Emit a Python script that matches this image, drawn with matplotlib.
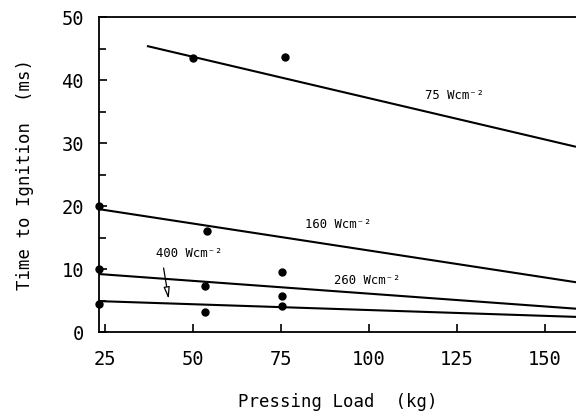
import matplotlib
matplotlib.use("Agg")
import matplotlib.pyplot as plt

plt.rcParams['font.family'] = ['DejaVu Sans Mono', 'DejaVu Sans']

# measured points
pts_x = [50, 76, 23.3, 54, 23.3, 53.4, 75.3, 75.3, 75.3, 53.4, 23.3]
pts_y = [43.5, 43.6, 20.0, 16.0, 10.0, 7.3, 9.5, 5.7, 4.1, 3.2, 4.4]

# fitted lines (x start, x end, y start, y end)
line_labels = ["75 Wcm⁻²", "160 Wcm⁻²", "260 Wcm⁻²", "400 Wcm⁻²"]
line_x0 = [36.9, 23.3, 23.3, 23.3]
line_x1 = [158.8, 158.8, 158.8, 158.8]
line_y0 = [45.4, 19.5, 9.2, 4.9]
line_y1 = [29.4, 7.9, 3.7, 2.4]

xticks = [25, 50, 75, 100, 125, 150]
yticks = [0, 10, 20, 30, 40, 50]

fig = plt.figure(figsize=(5.76, 4.15), dpi=100)
ax = fig.add_axes([0.172, 0.2, 0.828, 0.759])

for x0, x1, y0, y1 in zip(line_x0, line_x1, line_y0, line_y1):
    ax.plot([x0, x1], [y0, y1], color="black", lw=1.5, solid_capstyle="butt")

ax.plot(pts_x, pts_y, "o", color="black", ms=5, clip_on=False, zorder=5)

fs = 8.8
ax.text(124.4, 37.6, line_labels[0], fontsize=fs, ha="center", va="center")
ax.text(91.2, 17.1, line_labels[1], fontsize=fs, ha="center", va="center")
ax.text(99.4, 8.1, line_labels[2], fontsize=fs, ha="center", va="center")
ax.text(48.9, 12.4, line_labels[3], fontsize=fs, ha="center", va="center")
ax.annotate("", xy=(43.2, 4.8), xytext=(41.5, 10.6),
            arrowprops=dict(arrowstyle="-|>,head_length=0.7,head_width=0.18",
                            fc="white", ec="black", lw=0.9))

ax.set_xlim(23.3, 158.8)
ax.set_ylim(0, 50)
ax.set_xticks(xticks)
ax.set_yticks(yticks)
ax.set_yticks([5, 15, 25, 35, 45], minor=True)
ax.tick_params(direction="in", length=6, width=1.2, labelsize=13.5, pad=13)
ax.tick_params(which="minor", direction="in", length=5, width=1.2)
ax.tick_params(axis="y", pad=11)
ax.spines["right"].set_visible(False)
for s in ["left", "bottom", "top"]:
    ax.spines[s].set_linewidth(1.3)

ax.set_xlabel("Pressing Load  (kg)", fontsize=12.5, labelpad=17)
ax.set_ylabel("Time to Ignition  (ms)", fontsize=12.5, labelpad=20)

fig.savefig("out.png", dpi=100)
